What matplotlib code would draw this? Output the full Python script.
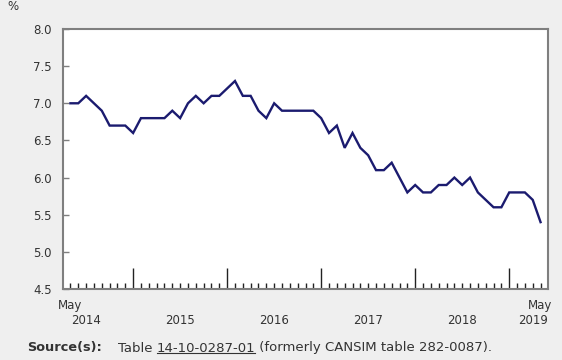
import matplotlib
matplotlib.use("Agg")
import matplotlib.pyplot as plt
from matplotlib.transforms import blended_transform_factory
from matplotlib.lines import Line2D

# ---- data ----
months = ["May 2014", "Jun 2014", "Jul 2014", "Aug 2014", "Sep 2014", "Oct 2014", "Nov 2014", "Dec 2014",
          "Jan 2015", "Feb 2015", "Mar 2015", "Apr 2015", "May 2015", "Jun 2015", "Jul 2015", "Aug 2015",
          "Sep 2015", "Oct 2015", "Nov 2015", "Dec 2015",
          "Jan 2016", "Feb 2016", "Mar 2016", "Apr 2016", "May 2016", "Jun 2016", "Jul 2016", "Aug 2016",
          "Sep 2016", "Oct 2016", "Nov 2016", "Dec 2016",
          "Jan 2017", "Feb 2017", "Mar 2017", "Apr 2017", "May 2017", "Jun 2017", "Jul 2017", "Aug 2017",
          "Sep 2017", "Oct 2017", "Nov 2017", "Dec 2017",
          "Jan 2018", "Feb 2018", "Mar 2018", "Apr 2018", "May 2018", "Jun 2018", "Jul 2018", "Aug 2018",
          "Sep 2018", "Oct 2018", "Nov 2018", "Dec 2018",
          "Jan 2019", "Feb 2019", "Mar 2019", "Apr 2019", "May 2019"]
rate = [7.0, 7.0, 7.1, 7.0, 6.9, 6.7, 6.7, 6.7,
        6.6, 6.8, 6.8, 6.8, 6.8, 6.9, 6.8, 7.0, 7.1, 7.0, 7.1, 7.1,
        7.2, 7.3, 7.1, 7.1, 6.9, 6.8, 7.0, 6.9, 6.9, 6.9, 6.9, 6.9,
        6.8, 6.6, 6.7, 6.4, 6.6, 6.4, 6.3, 6.1, 6.1, 6.2, 6.0, 5.8,
        5.9, 5.8, 5.8, 5.9, 5.9, 6.0, 5.9, 6.0, 5.8, 5.7, 5.6, 5.6,
        5.8, 5.8, 5.8, 5.7, 5.4]
years = ["2014", "2015", "2016", "2017", "2018", "2019"]
y_ticks = [4.5, 5.0, 5.5, 6.0, 6.5, 7.0, 7.5, 8.0]
y_unit = "%"

BG = "#efefef"
LINE = "#1b1b6f"
FRAME = "#7f7f7f"
TXT = "#333333"

W, H = 562, 360
fig = plt.figure(figsize=(W / 100, H / 100), dpi=100, facecolor=BG)
L, R, T, B = 63, 548, 29, 289
ax = fig.add_axes([L / W, 1 - B / H, (R - L) / W, (B - T) / H])
ax.set_facecolor("white")

x = list(range(len(rate)))
ax.plot(x, rate, color=LINE, lw=1.7, solid_joinstyle="miter")

ax.set_xlim(-0.95, len(rate) - 0.05)
ax.set_ylim(4.5, 8.0)

for s in ax.spines.values():
    s.set_color(FRAME)
    s.set_linewidth(1.5)

ax.set_yticks(y_ticks)
ax.set_yticklabels([f"{v:.1f}" for v in y_ticks])
ax.tick_params(axis="y", direction="in", length=4, width=1, color=FRAME,
               labelsize=8.5, labelcolor=TXT, pad=8)

jan_idx = [i for i, m in enumerate(months) if m.startswith("Jan")]
ax.set_xticks(jan_idx)
ax.set_xticklabels([])
ax.set_xticks(x, minor=True)
ax.tick_params(axis="x", which="major", direction="in", length=15, width=1, color="#222222")
ax.tick_params(axis="x", which="minor", direction="in", length=4, width=1, color="#222222")

tr = blended_transform_factory(ax.transData, fig.transFigure)
fs = 8.5
ax.text(0, 1 - 305 / H, months[0].split()[0], transform=tr, ha="center", va="center",
        fontsize=fs, color=TXT)
ax.text(len(rate) - 1, 1 - 305 / H, months[-1].split()[0], transform=tr, ha="center", va="center",
        fontsize=fs, color=TXT)
for k, yr in enumerate(years):
    pos = 2 + 12 * k
    if k == len(years) - 1:
        ax.text(len(rate) - 0.1, 1 - 321 / H, yr, transform=tr, ha="right", va="center",
                fontsize=fs, color=TXT)
    else:
        ax.text(pos, 1 - 321 / H, yr, transform=tr, ha="center", va="center",
                fontsize=fs, color=TXT)

fig.text(7 / W, 1 - 7 / H, y_unit, ha="left", va="center", fontsize=fs, color=TXT)

# source line
fig.canvas.draw()
rend = fig.canvas.get_renderer()
ys = 1 - 348 / H
xpos = 27
segs = [("Source(s):", "bold", False, 0, 9.3), ("Table ", "normal", False, 12, 9.5),
        ("14-10-0287-01", "normal", True, 0, 9.5),
        (" (formerly CANSIM table 282-0087).", "normal", False, 0, 9.5)]
for txt, wt, ul, gap, size in segs:
    xpos += gap
    t = fig.text(xpos / W, ys, txt, ha="left", va="center", fontsize=size, fontweight=wt,
                 color=TXT)
    bb = t.get_window_extent(renderer=rend)
    if ul:
        yline = (bb.y0 + 2) / H
        fig.add_artist(Line2D([bb.x0 / W, bb.x1 / W], [yline, yline], color=TXT, lw=0.8,
                              transform=fig.transFigure))
    xpos = bb.x1 + (4 if wt == "bold" else 0)

fig.savefig("out.png", dpi=100, facecolor=BG)
